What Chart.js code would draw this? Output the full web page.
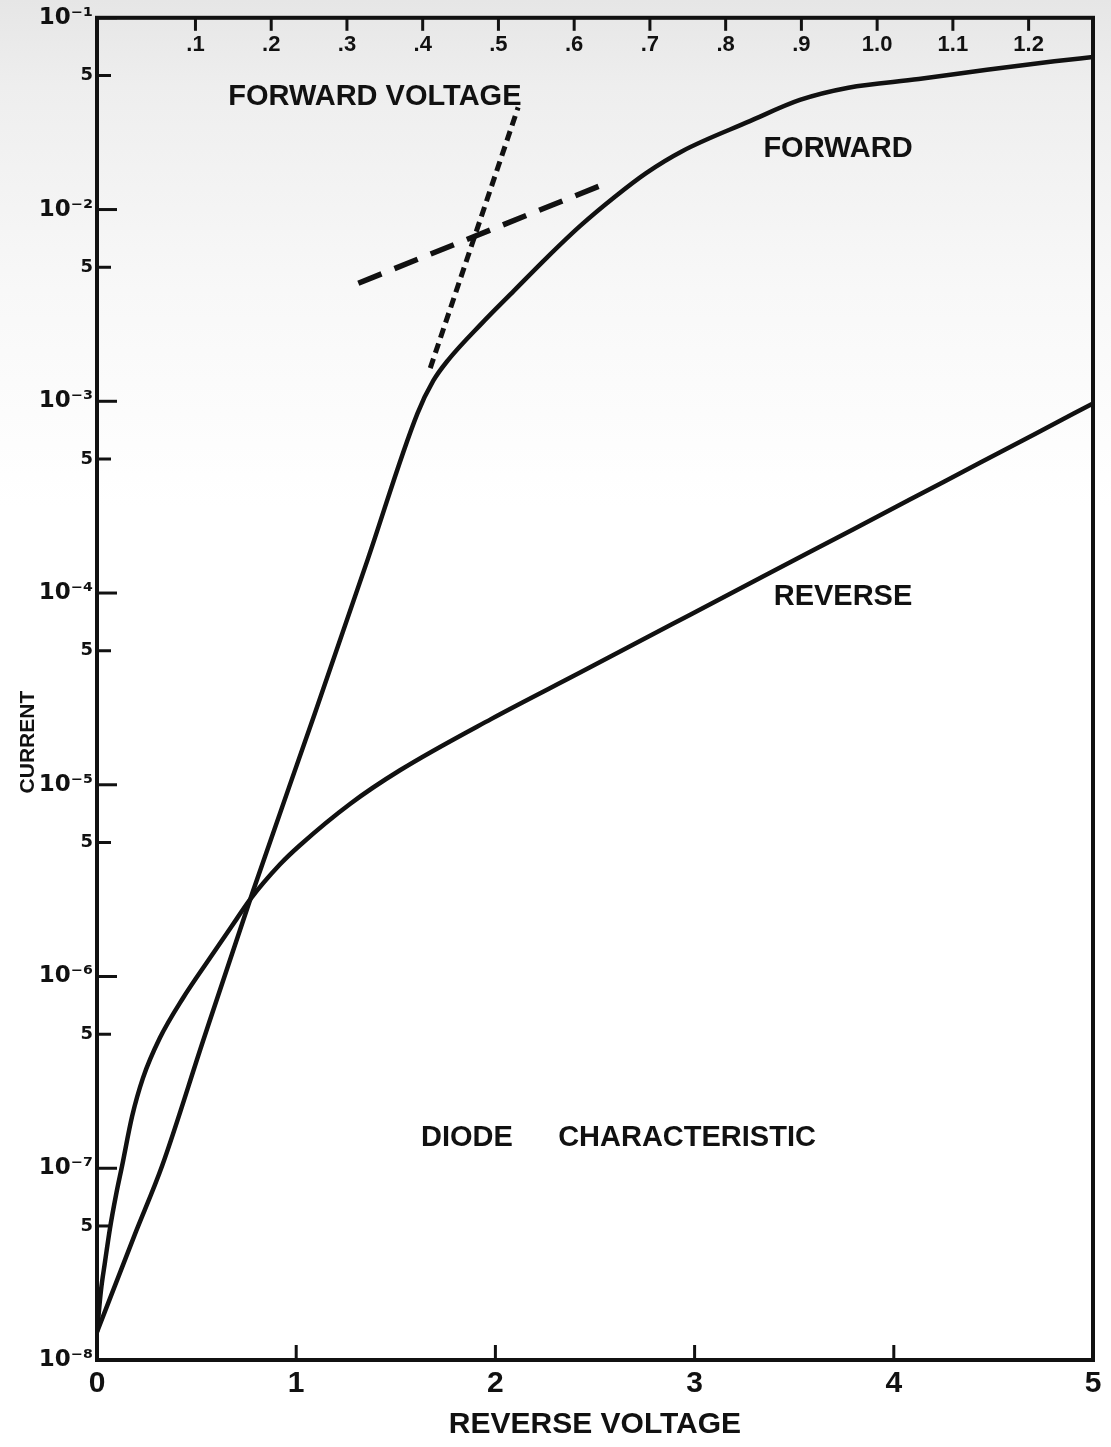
<!DOCTYPE html>
<html>
<head>
<meta charset="utf-8">
<script src="https://cdn.jsdelivr.net/npm/chart.js@4.4.1/dist/chart.umd.min.js"></script>
<style>
html,body{margin:0;padding:0;background:#ffffff;}
canvas{display:block;}
</style>
</head>
<body>
<canvas id="c" width="1111" height="1447"></canvas>
<script>
// ---- data ----
const forwardVoltage = [-0.030, 0.020, 0.056, 0.110, 0.175, 0.257, 0.327, 0.393, 0.414, 0.433, 0.478, 0.521, 0.564, 0.608, 0.653, 0.695, 0.742, 0.832, 0.898, 0.962, 1.055, 1.145, 1.234, 1.285];
const forwardCurrent = [1.40e-8, 4.52e-8, 1.03e-7, 4.61e-7, 2.72e-6, 2.32e-5, 1.48e-4, 8.63e-4, 1.28e-3, 1.63e-3, 2.55e-3, 3.79e-3, 5.62e-3, 8.22e-3, 1.16e-2, 1.55e-2, 2.01e-2, 2.89e-2, 3.73e-2, 4.32e-2, 4.79e-2, 5.36e-2, 5.93e-2, 6.24e-2];

const reverseVoltage = [0, 0.020, 0.040, 0.065, 0.095, 0.126, 0.176, 0.231, 0.316, 0.432, 0.567, 0.703, 0.768, 0.919, 1.019, 1.270, 1.521, 1.978, 2.430, 2.886, 3.343, 3.800, 4.252, 4.709, 5.0];
const reverseCurrent = [1.40e-8, 2.31e-8, 3.24e-8, 4.85e-8, 7.21e-8, 1.03e-7, 1.86e-7, 2.96e-7, 4.79e-7, 7.73e-7, 1.25e-6, 2.01e-6, 2.52e-6, 3.85e-6, 4.84e-6, 7.94e-6, 1.19e-5, 2.20e-5, 3.87e-5, 6.87e-5, 1.22e-4, 2.16e-4, 3.81e-4, 6.76e-4, 9.75e-4];

const steepTangentVoltage = [0.410, 0.526];
const steepTangentCurrent = [1.49e-3, 3.41e-2];
const kneeTangentVoltage = [0.315, 0.634];
const kneeTangentCurrent = [4.13e-3, 1.33e-2];

const currentTicks = [1e-8, 5e-8, 1e-7, 5e-7, 1e-6, 5e-6, 1e-5, 5e-5, 1e-4, 5e-4, 1e-3, 5e-3, 1e-2, 5e-2, 1e-1];
const currentTickLabels = ['10⁻⁸', '5', '10⁻⁷', '5', '10⁻⁶', '5', '10⁻⁵', '5', '10⁻⁴', '5', '10⁻³', '5', '10⁻²', '5', '10⁻¹'];
const reverseTicks = [0, 1, 2, 3, 4, 5];
const reverseTickLabels = ['0', '1', '2', '3', '4', '5'];
const forwardTicks = [0.1, 0.2, 0.3, 0.4, 0.5, 0.6, 0.7, 0.8, 0.9, 1.0, 1.1, 1.2];
const forwardTickLabels = ['.1', '.2', '.3', '.4', '.5', '.6', '.7', '.8', '.9', '1.0', '1.1', '1.2'];

const noteTexts = ['FORWARD VOLTAGE', 'FORWARD', 'REVERSE', 'DIODE', 'CHARACTERISTIC'];
const noteReverseVoltage = [1.395, 3.72, 3.745, 1.857, 2.962];
const noteCurrent = [3.88e-2, 2.08e-2, 9.5e-5, 1.43e-7, 1.43e-7];
const yTitle = 'CURRENT';
const yTitleCurrent = 1.67e-5;
const xTitle = 'REVERSE VOLTAGE';

// ---- helpers ----
const INK = '#111111';
const FONT = '"Liberation Sans", Arial, sans-serif';
const pairs = (xs, ys) => xs.map((x, i) => ({x: x, y: ys[i]}));
const labelFor = (vals, labels, v) => {
  const i = vals.findIndex(t => Math.abs(t - v) <= Math.abs(t) * 1e-6 + 1e-12);
  return i >= 0 ? labels[i] : '';
};

const paperPlugin = {
  id: 'paper',
  beforeDraw(chart) {
    const ctx = chart.ctx;
    const g = ctx.createLinearGradient(0, 0, 0, chart.height);
    g.addColorStop(0, '#e6e6e6');
    g.addColorStop(0.06, '#eeeeee');
    g.addColorStop(0.2, '#f8f8f8');
    g.addColorStop(0.35, '#ffffff');
    g.addColorStop(1, '#ffffff');
    ctx.save();
    ctx.fillStyle = g;
    ctx.fillRect(0, 0, chart.width, chart.height);
    ctx.restore();
  }
};

const framePlugin = {
  id: 'frame',
  afterDatasetsDraw(chart) {
    const ctx = chart.ctx;
    const a = chart.chartArea;
    const sx = chart.scales.x, sx2 = chart.scales.x2, sy = chart.scales.y;
    ctx.save();
    ctx.strokeStyle = INK;
    ctx.fillStyle = INK;
    ctx.lineCap = 'butt';
    // ticks
    ctx.lineWidth = 3;
    forwardTicks.forEach(v => {
      const p = sx2.getPixelForValue(v);
      ctx.beginPath(); ctx.moveTo(p, a.top); ctx.lineTo(p, a.top + 13); ctx.stroke();
    });
    reverseTicks.forEach(v => {
      if (v === 0 || v === 5) return;
      const p = sx.getPixelForValue(v);
      ctx.beginPath(); ctx.moveTo(p, a.bottom); ctx.lineTo(p, a.bottom - 15); ctx.stroke();
    });
    currentTicks.forEach((v, i) => {
      if (i === 0) return;
      const p = sy.getPixelForValue(v);
      const len = currentTickLabels[i] === '5' ? 14 : 20;
      ctx.beginPath(); ctx.moveTo(a.left, p); ctx.lineTo(a.left + len, p); ctx.stroke();
    });
    // frame
    ctx.lineWidth = 4;
    ctx.strokeRect(a.left, a.top, a.right - a.left, a.bottom - a.top);
    // top axis labels, inside the frame
    ctx.font = 'bold 22px ' + FONT;
    ctx.textAlign = 'center';
    ctx.textBaseline = 'middle';
    forwardTicks.forEach((v, i) => {
      ctx.fillText(forwardTickLabels[i], sx2.getPixelForValue(v), a.top + 27);
    });
    // notes
    ctx.font = 'bold 29px ' + FONT;
    noteTexts.forEach((t, i) => {
      ctx.fillText(t, sx.getPixelForValue(noteReverseVoltage[i]), sy.getPixelForValue(noteCurrent[i]));
    });
    // y title
    ctx.font = 'bold 21px ' + FONT;
    ctx.translate(28, sy.getPixelForValue(yTitleCurrent));
    ctx.rotate(-Math.PI / 2);
    ctx.fillText(yTitle, 0, 0);
    ctx.restore();
  }
};

new Chart(document.getElementById('c'), {
  type: 'scatter',
  data: {
    datasets: [
      {label: 'Forward', data: pairs(forwardVoltage, forwardCurrent), xAxisID: 'x2', yAxisID: 'y',
       showLine: true, borderColor: INK, borderWidth: 4.5, pointRadius: 0, cubicInterpolationMode: 'monotone'},
      {label: 'Reverse', data: pairs(reverseVoltage, reverseCurrent), xAxisID: 'x', yAxisID: 'y',
       showLine: true, borderColor: INK, borderWidth: 4.5, pointRadius: 0, cubicInterpolationMode: 'monotone'},
      {label: 'Tangent steep', data: pairs(steepTangentVoltage, steepTangentCurrent), xAxisID: 'x2', yAxisID: 'y',
       showLine: true, borderColor: INK, borderWidth: 5, pointRadius: 0, borderDash: [10, 6]},
      {label: 'Tangent knee', data: pairs(kneeTangentVoltage, kneeTangentCurrent), xAxisID: 'x2', yAxisID: 'y',
       showLine: true, borderColor: INK, borderWidth: 5.5, pointRadius: 0, borderDash: [25, 14]}
    ]
  },
  options: {
    responsive: false,
    animation: false,
    devicePixelRatio: 1,
    layout: {padding: {left: 0, right: 18, top: 0, bottom: 0}},
    plugins: {legend: {display: false}, tooltip: {enabled: false}},
    scales: {
      x: {
        type: 'linear', position: 'bottom', min: 0, max: 5,
        grid: {display: false, drawTicks: false}, border: {display: false},
        afterBuildTicks: s => { s.ticks = reverseTicks.map(v => ({value: v})); },
        afterFit: s => { s.height = 87; },
        ticks: {autoSkip: false, maxRotation: 0, padding: 6, color: INK,
          font: {family: FONT, weight: 'bold', size: 30},
          callback: v => labelFor(reverseTicks, reverseTickLabels, v)},
        title: {display: true, text: xTitle, color: INK, padding: {top: 0, bottom: 4},
          font: {family: FONT, weight: 'bold', size: 30}}
      },
      x2: {
        type: 'linear', position: 'top', min: -0.03, max: 1.285,
        grid: {display: false, drawTicks: false}, border: {display: false},
        afterBuildTicks: s => { s.ticks = forwardTicks.map(v => ({value: v})); },
        afterFit: s => { s.height = 14; },
        ticks: {display: false}
      },
      y: {
        type: 'logarithmic', position: 'left', min: 1e-8, max: 1e-1,
        grid: {display: false, drawTicks: false}, border: {display: false},
        afterBuildTicks: s => { s.ticks = currentTicks.map(v => ({value: v})); },
        afterFit: s => { s.width = 97; },
        ticks: {autoSkip: false, padding: 4, color: INK,
          font: c => ({family: '"DejaVu Sans", sans-serif', weight: 'bold',
                       size: (c.tick && labelFor(currentTicks, currentTickLabels, c.tick.value) === '5') ? 18 : 23}),
          callback: v => labelFor(currentTicks, currentTickLabels, v)}
      }
    }
  },
  plugins: [paperPlugin, framePlugin]
});
</script>
</body>
</html>
